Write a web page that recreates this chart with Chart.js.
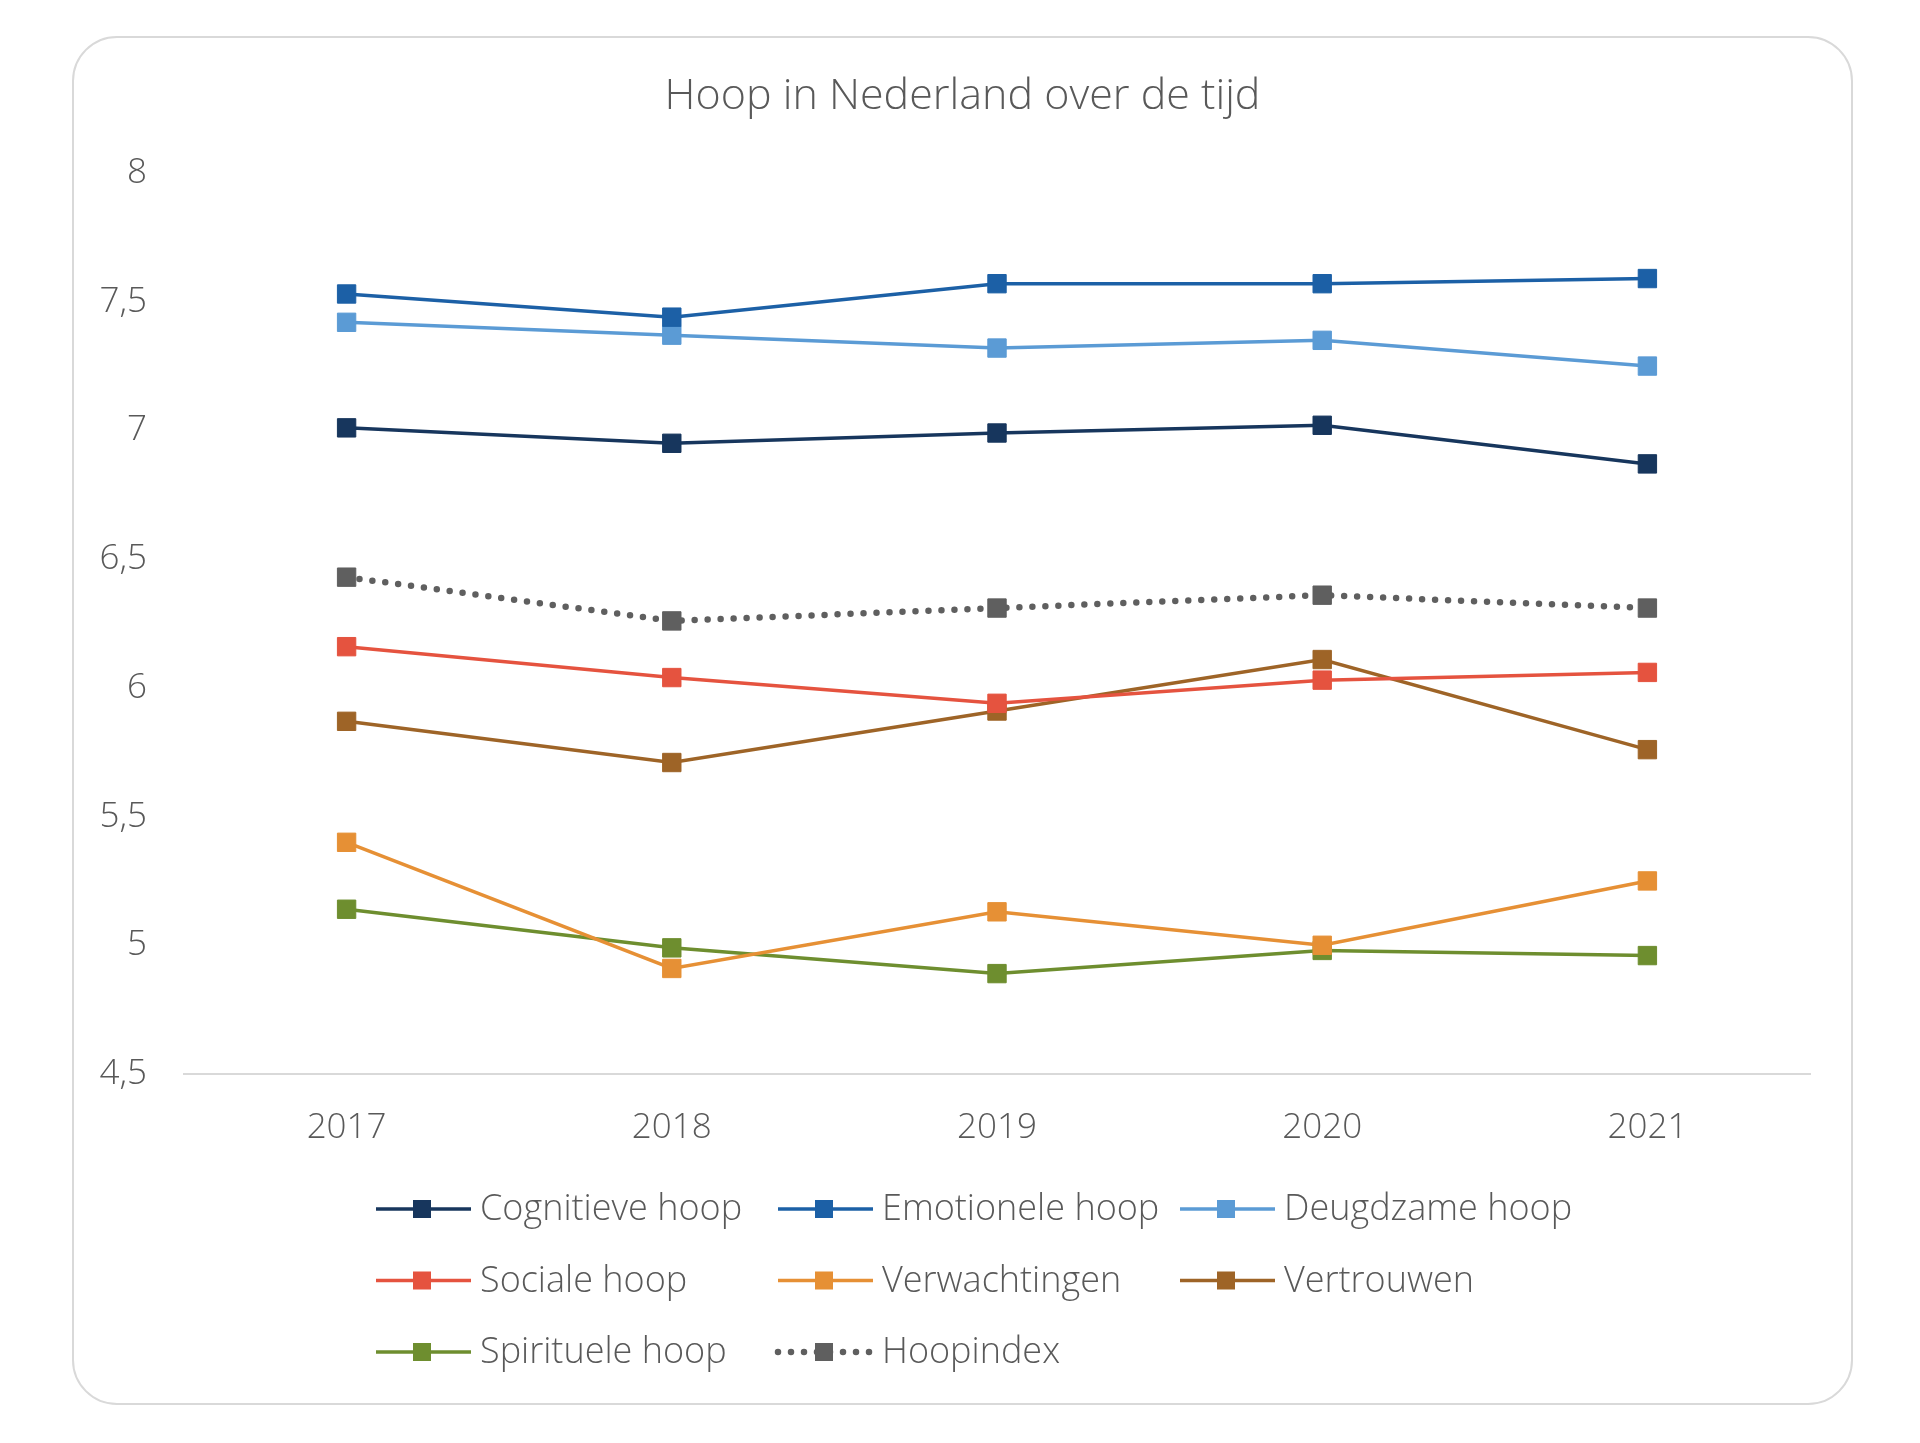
<!DOCTYPE html>
<html>
<head>
<meta charset="utf-8">
<script src="https://cdn.jsdelivr.net/npm/chart.js@4.4.1/dist/chart.umd.min.js"></script>
<style>
  html, body { margin: 0; padding: 0; background: #fff; }
  #card {
    position: absolute; left: 72px; top: 36px;
    width: 1777px; height: 1365px;
    border: 2px solid #d9d9d9; border-radius: 45px;
    background: #fff;
  }
  #card canvas { display: block; }
</style>
</head>
<body>
<div id="card"><canvas id="hoopChart" width="1777" height="1365"></canvas></div>
<script>
// jaren en reeksen
const years = ['2017', '2018', '2019', '2020', '2021'];
const cognitieve = [7.01, 6.95, 6.99, 7.02, 6.87];
const emotionele = [7.53, 7.44, 7.57, 7.57, 7.59];
const deugdzame = [7.42, 7.37, 7.32, 7.35, 7.25];
const sociale = [6.16, 6.04, 5.94, 6.03, 6.06];
const verwachtingen = [5.40, 4.91, 5.13, 5.00, 5.25];
const vertrouwen = [5.87, 5.71, 5.91, 6.11, 5.76];
const spirituele = [5.14, 4.99, 4.89, 4.98, 4.96];
const hoopindex = [6.43, 6.26, 6.31, 6.36, 6.31];
const yTicks = [4.5, 5, 5.5, 6, 6.5, 7, 7.5, 8];
const titel = 'Hoop in Nederland over de tijd';

const textColor = '#595959';
const fontFamily = '"Open Sans", "DejaVu Sans", sans-serif';

function serie(label, data, color, extra) {
  return Object.assign({
    label: label,
    data: data,
    borderColor: color,
    backgroundColor: color,
    pointBackgroundColor: color,
    pointBorderColor: color,
    borderWidth: 3.5,
    pointStyle: 'rect',
    pointRadius: 13,
    pointBorderWidth: 1,
    tension: 0,
    fill: false
  }, extra || {});
}

// titel gecentreerd op de hele kaart + legenda in drie kolommen
const kaartDecor = {
  id: 'kaartDecor',
  afterDraw(chart) {
    const ctx = chart.ctx;
    ctx.save();
    ctx.fillStyle = textColor;
    ctx.font = '300 43px ' + fontFamily;
    ctx.textAlign = 'center';
    ctx.textBaseline = 'middle';
    ctx.fillText(titel, chart.width / 2, 59);
    ctx.restore();

    const x0 = 299, y0 = chart.scales.x.bottom + 15, colW = 402, rowH = 71.5;
    chart.data.datasets.forEach((ds, i) => {
      const x = x0 + (i % 3) * colW;
      const y = y0 + Math.floor(i / 3) * rowH;
      ctx.save();
      ctx.strokeStyle = ds.borderColor;
      ctx.lineWidth = ds.borderWidth;
      if (ds.borderDash) {
        ctx.setLineDash(ds.borderDash);
        ctx.lineCap = ds.borderCapStyle;
      }
      ctx.beginPath();
      ctx.moveTo(x + 3, y);
      ctx.lineTo(x + 98, y);
      ctx.stroke();
      ctx.setLineDash([]);
      ctx.fillStyle = ds.pointBackgroundColor;
      ctx.fillRect(x + 40, y - 9, 18, 18);
      ctx.fillStyle = textColor;
      ctx.font = '300 36px ' + fontFamily;
      ctx.textBaseline = 'middle';
      ctx.fillText(ds.label, x + 107, y + 1);
      ctx.restore();
    });
  }
};

const ctx = document.getElementById('hoopChart').getContext('2d');
const hoopChart = new Chart(ctx, {
  type: 'line',
  data: {
    labels: years,
    datasets: [
      serie('Cognitieve hoop', cognitieve, '#17365d'),
      serie('Emotionele hoop', emotionele, '#1c60a6'),
      serie('Deugdzame hoop', deugdzame, '#5b9bd5'),
      serie('Sociale hoop', sociale, '#e5533f'),
      serie('Verwachtingen', verwachtingen, '#e69035'),
      serie('Vertrouwen', vertrouwen, '#9e6427'),
      serie('Spirituele hoop', spirituele, '#6e8e2f'),
      serie('Hoopindex', hoopindex, '#5f5f5f', {
        borderWidth: 6.5,
        borderDash: [0, 13],
        borderCapStyle: 'round'
      })
    ]
  },
  options: {
    responsive: false,
    animation: false,
    layout: { padding: { left: 18, right: 41, top: 135, bottom: 209 } },
    plugins: {
      legend: { display: false },
      tooltip: { enabled: false },
      title: { display: false }
    },
    scales: {
      x: {
        offset: true,
        grid: { display: false },
        border: { display: true, color: '#d9d9d9', width: 2 },
        ticks: { color: textColor, font: { family: fontFamily, size: 35, weight: '300' }, padding: 25 },
        afterFit: (scale) => { scale.height = 120; }
      },
      y: {
        min: 4.5,
        max: 8,
        grid: { display: false },
        border: { display: false },
        afterBuildTicks: (scale) => { scale.ticks = yTicks.map(v => ({ value: v })); },
        ticks: {
          color: textColor,
          font: { family: fontFamily, size: 35, weight: '300' },
          padding: 29,
          callback: (v) => String(v).replace('.', ',')
        },
        afterFit: (scale) => { scale.width = 92; }
      }
    }
  },
  plugins: [kaartDecor]
});
</script>
</body>
</html>
